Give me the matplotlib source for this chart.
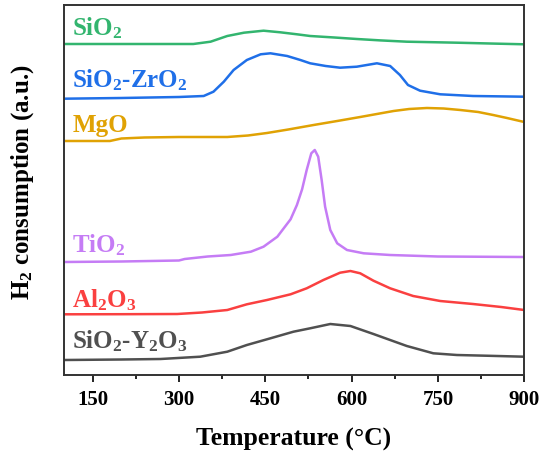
import numpy as np
import matplotlib
matplotlib.use("Agg")
import matplotlib.pyplot as plt

plt.rcParams['font.family'] = ['Liberation Serif', 'DejaVu Serif']
plt.rcParams['font.weight'] = 'bold'
plt.rcParams['mathtext.default'] = 'regular'

# Temperatures (°C) and signal (a.u., already offset for stacking)
t_sio2 = [100, 200, 325, 355, 384, 413, 447, 476, 505, 528, 570, 609, 650, 696, 740, 783, 840, 900]
y_sio2 = [331, 331, 331, 333.3, 339, 342.3, 344.3, 342.7, 340.7, 339, 337.5, 336, 334.6, 333.3, 332.8, 332.3, 331.5, 330.7]

t_zr = [100, 200, 300, 343, 360, 378, 395, 418, 442, 459, 488, 511, 528, 555, 580, 609, 644, 667, 684, 698, 719, 754, 811, 900]
y_zr = [276.3, 277, 278, 279, 283.3, 293.3, 305, 315, 320.7, 321.7, 319, 315, 311.7, 309, 307.3, 308.3, 311.7, 309, 300, 290, 284.3, 280.7, 279, 278.3]

t_mgo = [100, 180, 200, 240, 300, 384, 420, 453, 490, 534, 575, 615, 673, 700, 731, 760, 789, 820, 846, 870, 900]
y_mgo = [234, 234, 236.5, 237.5, 238, 238, 239.5, 242, 245.5, 250, 254, 258, 264, 266, 267, 266.5, 265, 263, 260, 257, 253]

t_ti = [100, 200, 300, 310, 350, 390, 425, 447, 471, 494, 505, 514, 522, 530, 536, 542, 548, 554, 563, 575, 592, 621, 667, 750, 900]
y_ti = [113, 113.5, 114.5, 116, 118.5, 120, 123.3, 128.3, 138.3, 155.7, 170, 185.7, 205, 221.7, 225, 218.3, 195, 168.3, 145, 131.7, 125, 121.7, 120, 118.5, 118]

t_al = [100, 200, 297, 340, 384, 418, 453, 494, 522, 551, 580, 598, 615, 638, 667, 707, 754, 811, 860, 900]
y_al = [60.7, 60.8, 61, 62.5, 65, 70.7, 75, 80.7, 86.7, 95, 102.3, 104, 101.7, 94.3, 86.7, 79, 74, 71, 68, 65]

t_y = [100, 200, 268, 337, 384, 418, 459, 499, 528, 563, 598, 638, 696, 742, 783, 840, 900]
y_y = [15, 15.5, 16, 18.3, 23.3, 30, 36.7, 43.3, 46.7, 51, 49, 41, 29, 21.7, 20, 19.2, 18.3]

names = [r'SiO$_2$', r'SiO$_2$-ZrO$_2$', 'MgO', r'TiO$_2$', r'Al$_2$O$_3$', r'SiO$_2$-Y$_2$O$_3$']
colors = ['#33b56f', '#1f6fe8', '#e0a204', '#c57cf5', '#fa4040', '#505050']
label_y = [340, 288, 243, 123, 68, 27]

fig = plt.figure(figsize=(5.41, 4.54), dpi=100)
ax = fig.add_axes([0.118, 0.174, 0.851, 0.815])

series = [(t_sio2, y_sio2), (t_zr, y_zr), (t_mgo, y_mgo), (t_ti, y_ti), (t_al, y_al), (t_y, y_y)]
for (t, y), c, name, ly in zip(series, colors, names, label_y):
    ax.plot(t, y, color=c, lw=1.8)
    ax.text(115, ly, name, color=c, fontsize=18, fontweight='bold', va='baseline')

ax.set_xlim(100, 900)
ax.set_ylim(0, 370)
ax.set_xticks([150, 300, 450, 600, 750, 900])
ax.set_xticks(np.arange(225, 900, 150), minor=True)
ax.set_yticks([])
ax.tick_params(axis='x', direction='out', length=5, width=1.2, labelsize=15, pad=6)
ax.tick_params(axis='x', which='minor', direction='out', length=3, width=1.2)
for lab in ax.get_xticklabels():
    lab.set_fontweight('bold')
for s in ax.spines.values():
    s.set_linewidth(1.4)
    s.set_color('#333333')

ax.set_xlabel('Temperature (°C)', fontsize=18.5, fontweight='bold', labelpad=13)
ax.set_ylabel(r'H$_2$ consumption (a.u.)', fontsize=18, fontweight='bold')
ax.yaxis.set_label_coords(-0.06, 0.52)

fig.savefig('out.png', dpi=100)
